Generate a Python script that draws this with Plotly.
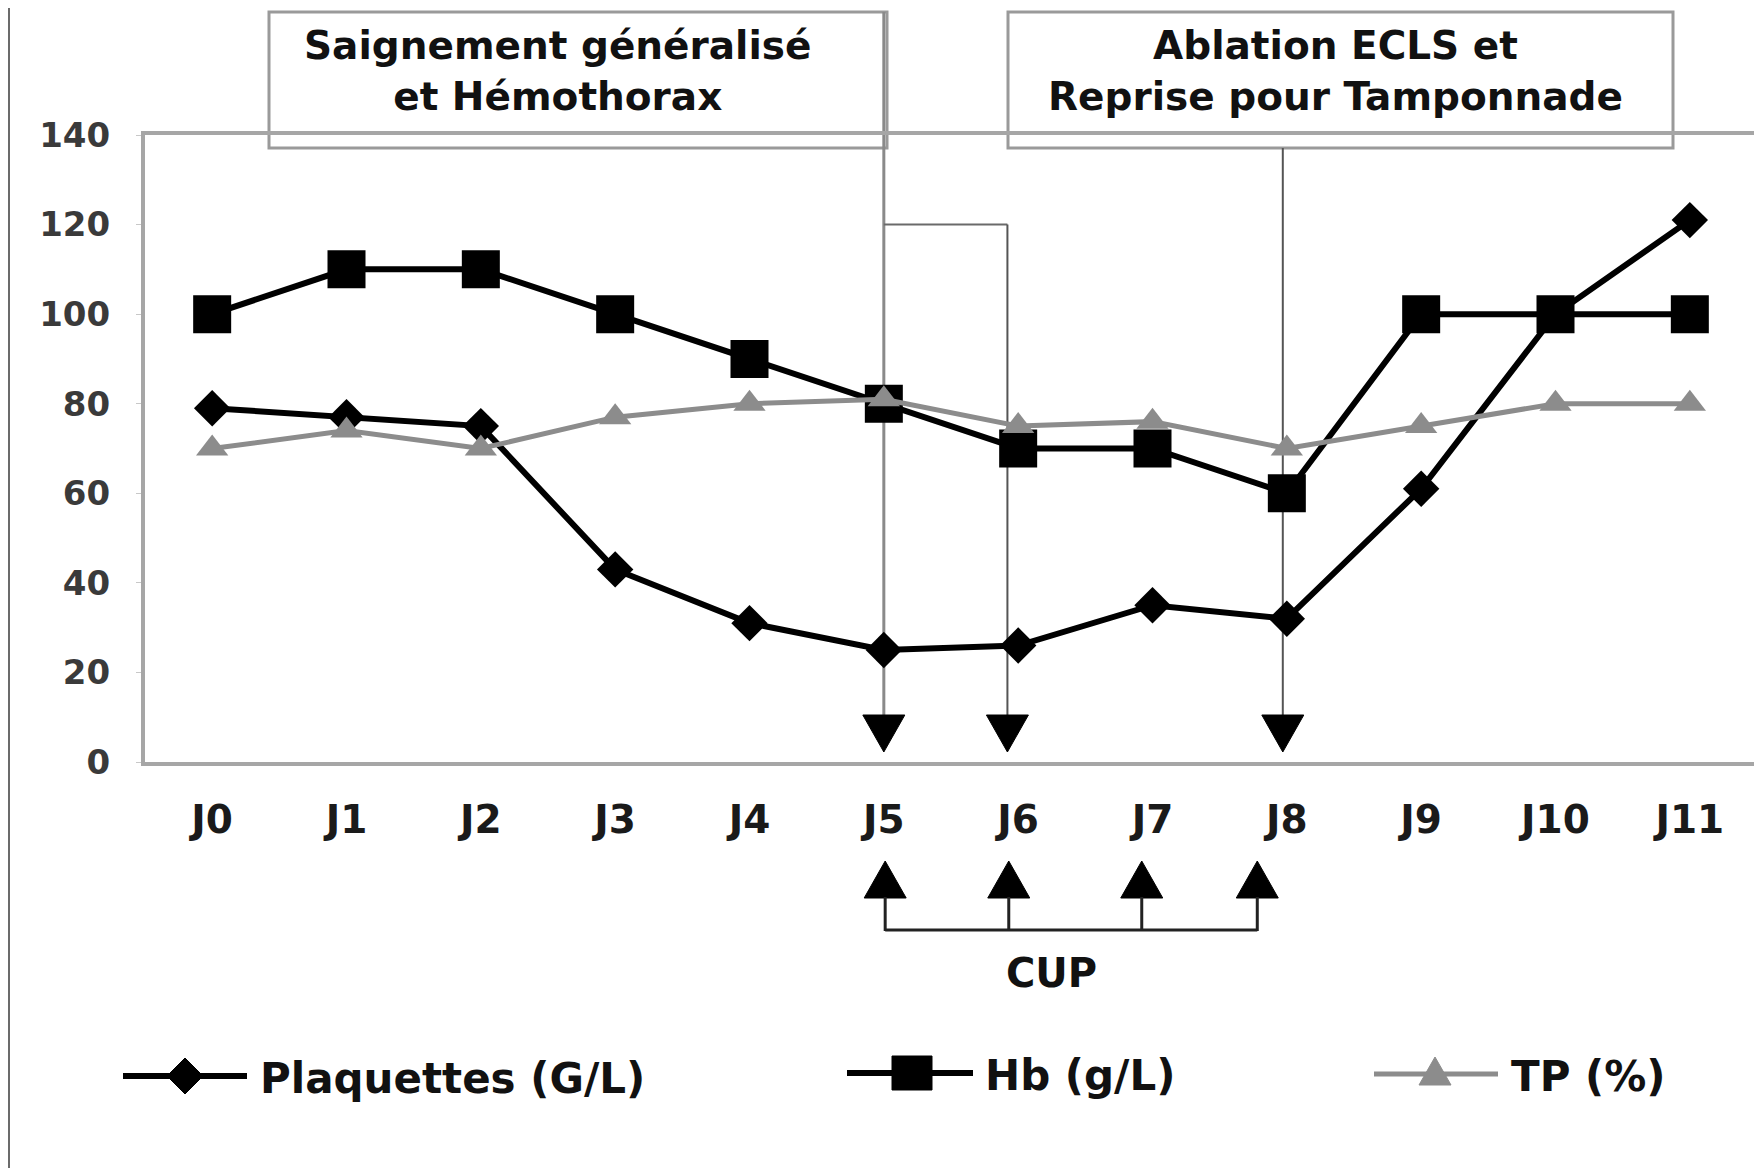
import plotly.graph_objects as go

# ---------------- data ----------------
days = ["J0", "J1", "J2", "J3", "J4", "J5", "J6", "J7", "J8", "J9", "J10", "J11"]
plaquettes = [79, 77, 75, 43, 31, 25, 26, 35, 32, 61, 100, 121]
hb = [100, 110, 110, 100, 90, 80, 70, 70, 60, 100, 100, 100]
tp = [70, 74, 70, 77, 80, 81, 75, 76, 70, 75, 80, 80]
y_ticks = [0, 20, 40, 60, 80, 100, 120, 140]

series_names = ["Plaquettes (G/L)", "Hb (g/L)", "TP (%)"]
box_texts = ["Saignement généralisé<br>et Hémothorax",
             "Ablation ECLS et<br>Reprise pour Tamponnade"]
cup_text = "CUP"
# event positions (day index) for the down arrows and the CUP arrows
event_days = [5.0, 5.92, 7.97]
cup_days = [5.01, 5.93, 6.92, 7.78]

# ---------------- layout helpers ----------------
W, H = 1762, 1168
OFF = 8                                   # page body offset of the figure
PL, PR, PT, PB = 145, 1757, 135, 762      # plot area in screen pixels
YMAX = 140
FONT = "DejaVu Sans"


def fx(p):
    return (p - OFF) / W


def fy(p):
    return 1 - (p - OFF) / H


dom_y = [fy(PB), fy(PT)]


def fyv(v):
    return dom_y[0] + v / YMAX * (dom_y[1] - dom_y[0])


x_idx = list(range(len(days)))

fig = go.Figure()
fig.add_trace(go.Scatter(
    x=x_idx, y=plaquettes, name=series_names[0], mode="lines+markers",
    line=dict(color="#000000", width=6),
    marker=dict(symbol="diamond", size=28, color="#000000"),
    showlegend=False))
fig.add_trace(go.Scatter(
    x=x_idx, y=hb, name=series_names[1], mode="lines+markers",
    line=dict(color="#000000", width=6),
    marker=dict(symbol="square", size=38, color="#000000"),
    showlegend=False))
fig.add_trace(go.Scatter(
    x=x_idx, y=tp, name=series_names[2], mode="lines+markers",
    line=dict(color="#8c8c8c", width=5),
    marker=dict(symbol="triangle-up", size=28, color="#8c8c8c"),
    showlegend=False))

shapes = []
# outer dark frame strip (as far as the page allows)
shapes.append(dict(type="rect", xref="paper", yref="paper", x0=0, x1=fx(OFF + 2), y0=0, y1=1,
                   fillcolor="#6b6b6b", line=dict(width=0), layer="above"))

# annotation boxes
for x0, x1 in [(269, 887), (1008, 1673)]:
    shapes.append(dict(type="rect", xref="paper", yref="paper",
                       x0=fx(x0), x1=fx(x1), y0=fy(148), y1=fy(12),
                       line=dict(color="#9a9a9a", width=3), fillcolor="rgba(0,0,0,0)",
                       layer="below"))

# vertical event lines
shapes.append(dict(type="line", xref="x", yref="paper", x0=event_days[0], x1=event_days[0],
                   y0=fy(12), y1=fy(716), line=dict(color="#8a8a8a", width=3), layer="below"))
shapes.append(dict(type="line", xref="x", yref="paper", x0=event_days[0], x1=event_days[1],
                   y0=fyv(120), y1=fyv(120), line=dict(color="#6a6a6a", width=2), layer="below"))
shapes.append(dict(type="line", xref="x", yref="paper", x0=event_days[1], x1=event_days[1],
                   y0=fyv(120), y1=fy(716), line=dict(color="#555555", width=2), layer="below"))
shapes.append(dict(type="line", xref="x", yref="paper", x0=event_days[2], x1=event_days[2],
                   y0=fy(148), y1=fy(716), line=dict(color="#555555", width=2), layer="below"))

# down arrow heads
for d in event_days:
    shapes.append(dict(type="path", xref="x", yref="paper", xsizemode="pixel", ysizemode="pixel",
                       xanchor=d, yanchor=fy(752), path="M-21,37 L21,37 L0,0 Z",
                       fillcolor="#000000", line=dict(color="#000000", width=1), layer="above"))

# CUP arrows under the axis
for d in cup_days:
    shapes.append(dict(type="path", xref="x", yref="paper", xsizemode="pixel", ysizemode="pixel",
                       xanchor=d, yanchor=fy(861), path="M-21,-37 L21,-37 L0,0 Z",
                       fillcolor="#000000", line=dict(color="#000000", width=1), layer="above"))
    shapes.append(dict(type="line", xref="x", yref="paper", x0=d, x1=d, y0=fy(897), y1=fy(931),
                       line=dict(color="#222222", width=3), layer="above"))
shapes.append(dict(type="line", xref="x", yref="paper", x0=cup_days[0], x1=cup_days[-1],
                   y0=fy(930), y1=fy(930), line=dict(color="#222222", width=3), layer="above"))

# custom legend samples
legend_items = [
    # (line x0, line x1, y, marker centre x, colour, line width, marker path, text x)
    (123, 247, 1076, 185, "#000000", 6, "M-18,0 L0,18 L18,0 L0,-18 Z", 258),
    (847, 973, 1073, 912, "#000000", 6, "M-20,-17 L20,-17 L20,17 L-20,17 Z", 983),
    (1374, 1498, 1074, 1435, "#8c8c8c", 5, "M-16,-11 L16,-11 L0,17 Z", 1509),
]
annotations = []
for (lx0, lx1, ly, mx, col, lw, mpath, tx), name in zip(legend_items, series_names):
    shapes.append(dict(type="line", xref="paper", yref="paper", x0=fx(lx0), x1=fx(lx1),
                       y0=fy(ly), y1=fy(ly), line=dict(color=col, width=lw), layer="above"))
    shapes.append(dict(type="path", xref="paper", yref="paper", xsizemode="pixel", ysizemode="pixel",
                       xanchor=fx(mx), yanchor=fy(ly), path=mpath,
                       fillcolor=col, line=dict(color=col, width=1), layer="above"))
    annotations.append(dict(text=name, xref="paper", yref="paper", x=fx(tx), y=fy(ly + 2),
                            xanchor="left", yanchor="middle", showarrow=False,
                            font=dict(family=FONT, size=42, color="#111111", weight="bold")))

# box texts
for t, cx in zip(box_texts, [558, 1335]):
    annotations.append(dict(text=t, xref="paper", yref="paper", x=fx(cx), y=fy(71),
                            xanchor="center", yanchor="middle", showarrow=False, align="center",
                            font=dict(family=FONT, size=39, color="#111111", weight="bold")))
annotations.append(dict(text=cup_text, xref="paper", yref="paper", x=fx(1051), y=fy(973),
                        xanchor="center", yanchor="middle", showarrow=False,
                        font=dict(family=FONT, size=40, color="#111111", weight="bold")))

fig.update_layout(
    width=W, height=H,
    margin=dict(l=0, r=0, t=0, b=0, autoexpand=False),
    paper_bgcolor="#ffffff",
    plot_bgcolor="rgba(0,0,0,0)",
    shapes=shapes,
    annotations=annotations,
    showlegend=False,
    xaxis=dict(domain=[fx(PL), fx(PR)], range=[-0.5, len(days) - 0.5], automargin=False,
               tickmode="array", tickvals=x_idx, ticktext=days,
               showline=True, mirror=True, linecolor="#a6a6a6", linewidth=4,
               showgrid=False, zeroline=False, ticks="",
               ticklabelstandoff=20,
               tickfont=dict(family=FONT, size=39, color="#1a1a1a", weight="bold")),
    yaxis=dict(domain=dom_y, range=[0, YMAX], automargin=False,
               tickmode="array", tickvals=y_ticks,
               showline=True, mirror=True, linecolor="#a6a6a6", linewidth=4,
               showgrid=False, zeroline=False, ticks="outside", ticklen=5, tickcolor="#c8c8c8",
               ticklabelstandoff=19,
               tickfont=dict(family=FONT, size=34, color="#3a3a3a", weight="bold")),
)

fig.write_html("out.html")
